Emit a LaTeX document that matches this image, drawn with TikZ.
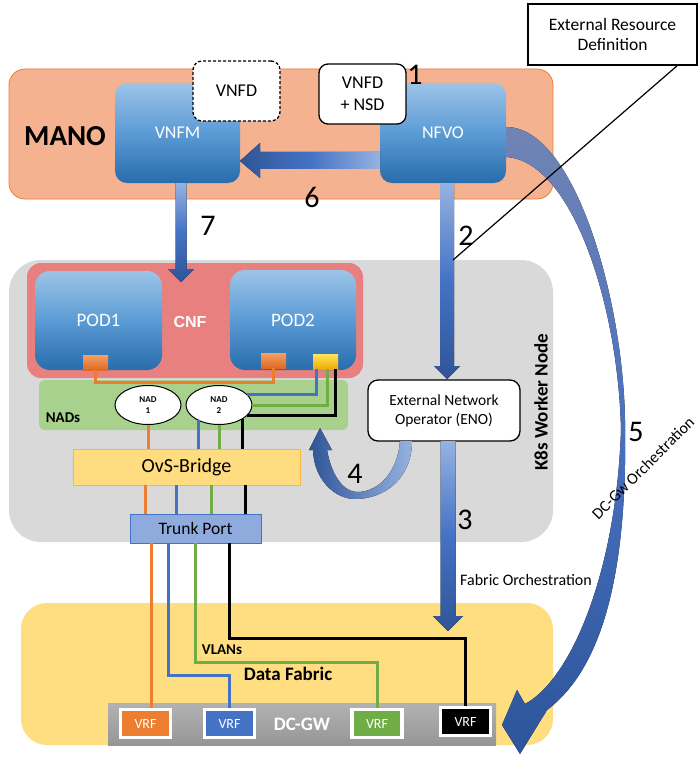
\documentclass[tikz,border=0pt]{standalone}
\usepackage{fontspec}
\setmainfont{Carlito}
\newfontfamily\arialfont{Liberation Sans}
\usetikzlibrary{shapes.geometric,calc}

\definecolor{manofill}{RGB}{245,178,145}
\definecolor{manodraw}{RGB}{237,125,49}
\definecolor{bluetop}{RGB}{157,196,231}
\definecolor{bluemid}{RGB}{91,155,213}
\definecolor{bluebot}{RGB}{40,108,172}
\definecolor{k8sgray}{RGB}{217,217,217}
\definecolor{cnfred}{RGB}{233,128,128}
\definecolor{nadgreen}{RGB}{169,209,142}
\definecolor{ovsfill}{RGB}{255,220,128}
\definecolor{ovsdraw}{RGB}{244,185,66}
\definecolor{trunkfill}{RGB}{143,170,220}
\definecolor{trunkdraw}{RGB}{68,114,196}
\definecolor{fabricfill}{RGB}{255,222,130}
\definecolor{lnorange}{RGB}{237,125,49}
\definecolor{lnblue}{RGB}{68,114,196}
\definecolor{lngreen}{RGB}{112,173,71}
\definecolor{arrlight}{RGB}{150,178,225}
\definecolor{arrmid}{RGB}{68,114,196}
\definecolor{arrdark}{RGB}{47,85,151}
\definecolor{arrgray}{RGB}{112,132,180}
\definecolor{gwtop}{RGB}{178,178,178}
\definecolor{gwbot}{RGB}{150,150,150}

\newcommand\dnarrow[7]{\fill[#1] ({#2-#5},#3) -- ({#2-#5},{#4-#7}) -- ({#2-#6},{#4-#7}) -- (#2,#4) -- ({#2+#6},{#4-#7}) -- ({#2+#5},{#4-#7}) -- ({#2+#5},#3) -- cycle;}

\tikzset{
 zsep/.style={inner sep=0pt, outer sep=0pt},
 bluebox/.style={zsep, rectangle, rounded corners=12pt, top color=bluetop, bottom color=bluebot, middle color=bluemid, text=white, font=\fontsize{18}{20}\selectfont},
 podbox/.style={bluebox, rounded corners=15pt, font=\fontsize{19}{21}\selectfont},
 notebox/.style={zsep, draw=black, line width=1.3pt, fill=white, rounded corners=9pt, align=center, font=\fontsize{18}{22}\selectfont},
 portbox/.style={zsep, minimum width=25pt, minimum height=15pt},
 nadell/.style={zsep, ellipse, draw=black, line width=1pt, fill=white, minimum width=66pt, minimum height=39pt, align=center, font=\fontsize{9}{11}\selectfont\bfseries},
 vrfbox/.style={zsep, draw=white, line width=3.5pt, minimum width=50pt, minimum height=28pt, text=white, font=\fontsize{14}{16}\selectfont},
 wire/.style={line width=3pt},
 numlbl/.style={font=\fontsize{30}{32}\selectfont},
 vgrad/.style={top color=arrlight, bottom color=arrdark, middle color=arrmid},
}

\begin{document}
\begin{tikzpicture}[x=1pt,y=-1pt]
\useasboundingbox (0,0) rectangle (700,778);
\fill[white] (0,0) rectangle (700,778);

% big panels
\node[zsep, rounded corners=16pt, fill=manofill, draw=manodraw, line width=0.8pt, minimum width=544pt, minimum height=130pt] (mano) at (281,134) {};
\node[zsep, rounded corners=32pt, fill=k8sgray, minimum width=544pt, minimum height=282pt] (k8s) at (281,401) {};
\node[zsep, rounded corners=26pt, fill=fabricfill, minimum width=532pt, minimum height=142pt] (fabric) at (287,674) {};

% CNF
\node[zsep, rounded corners=14pt, fill=cnfred, minimum width=336pt, minimum height=115pt] (cnf) at (195,320.5) {};
\node[podbox, minimum width=127pt, minimum height=99pt] (pod1) at (98.5,320.5) {POD1};
\node[podbox, minimum width=126pt, minimum height=100pt] (pod2) at (293,320) {POD2};
\node[portbox, top color={rgb,255:red,246;green,160;blue,100}, bottom color={rgb,255:red,222;green,105;blue,35}] (p1o) at (95.5,362.5) {};
\node[portbox, top color={rgb,255:red,246;green,160;blue,100}, bottom color={rgb,255:red,222;green,105;blue,35}] (p2o) at (273.5,360.5) {};
\node[portbox, top color={rgb,255:red,255;green,228;blue,90}, bottom color={rgb,255:red,235;green,172;blue,0}] (p2y) at (325.5,361.5) {};

% NADs
\node[zsep, rounded corners=6pt, fill=nadgreen, minimum width=309pt, minimum height=50pt] (nads) at (193.5,405) {};
\node[nadell] (nad1) at (148,405) {NAD\\1};
\node[nadell] (nad2) at (219,405) {NAD\\2};

% OvS and trunk
\node[zsep, fill=ovsfill, draw=ovsdraw, line width=0.8pt, minimum width=227pt, minimum height=36pt, font=\fontsize{20}{22}\selectfont] (ovs) at (186.5,467) {OvS-Bridge};
\node[zsep, fill=trunkfill, draw=trunkdraw, line width=0.8pt, minimum width=131pt, minimum height=29pt, font=\fontsize{17.5}{19}\selectfont] (trunk) at (195.5,528.5) {Trunk Port};

% DC-GW
\node[zsep, top color=gwtop, bottom color=gwbot, minimum width=388pt, minimum height=42pt, text=white, font=\fontsize{19}{21}\selectfont\bfseries] (dcgw) at (302,724) {DC-GW};

% wires in pods / NADs
\draw[wire, lnorange] (p1o.south) -- ++(0,12) -| (p2o.south);
\draw[wire, lnblue] ([xshift=-9.5pt]p2y.south) |- (nad2.20);
\draw[wire, lngreen] ([xshift=1.5pt]p2y.south) |- (nad2.east);
\draw[wire, black] ([xshift=9.5pt]p2y.south) |- (nad2.-20);
\draw[wire, lnorange] (nad1.south) -- (nad1.south |- ovs.north);
\draw[wire, lnblue] (nad2.-144) -- (nad2.-144 |- ovs.north);
\draw[wire, lngreen] (nad2.south) -- (nad2.south |- ovs.north);
\draw[wire, black] (nad2.-30) -- (nad2.-30 |- ovs.north);

% OvS to trunk
\coordinate (o1) at ([xshift=-41.5pt]ovs.south);
\coordinate (o2) at ([xshift=-10.5pt]ovs.south);
\coordinate (o3) at ([xshift=24.5pt]ovs.south);
\coordinate (o4) at ([xshift=58.5pt]ovs.south);
\draw[wire, lnorange] (o1) -- (o1 |- trunk.north);
\draw[wire, lnblue] (o2) -- (o2 |- trunk.north);
\draw[wire, lngreen] (o3) -- (o3 |- trunk.north);
\draw[wire, black] (o4) -- (o4 |- trunk.north);

% VRFs
\node[vrfbox, fill=lnorange] (vrf1) at (145.5,723.5) {VRF};
\node[vrfbox, fill=lnblue] (vrf2) at (229.5,723.5) {VRF};
\node[vrfbox, fill=lngreen] (vrf3) at (377,723.5) {VRF};
\node[vrfbox, fill=black] (vrf4) at (465.5,721.5) {VRF};

% trunk to VRFs
\coordinate (t1) at ([xshift=-44.5pt]trunk.south);
\coordinate (t2) at ([xshift=-27.5pt]trunk.south);
\coordinate (t3) at ([xshift=-0.5pt]trunk.south);
\coordinate (t4) at ([xshift=33.5pt]trunk.south);
\draw[wire, lnorange] (t1) -- (t1 |- vrf1.north);
\draw[wire, lnblue] (t2) -- ++(0,132) -| (vrf2.north);
\draw[wire, lngreen] (t3) -- ++(0,119) -| (vrf3.north);
\draw[wire, black] (t4) -- ++(0,95) -| (vrf4.north);
% redraw VRF borders on top of wire ends
\foreach \v in {vrf1,vrf2,vrf3,vrf4} {\draw[white, line width=3.5pt] (\v.north west) rectangle (\v.south east);}

% MANO boxes
\node[bluebox, minimum width=125pt, minimum height=100pt] (vnfm) at (177.5,133) {VNFM};
\node[bluebox, minimum width=126pt, minimum height=100pt] (nfvo) at (443,133) {NFVO};
\node[notebox, dash pattern=on 3pt off 2pt, minimum width=87pt, minimum height=60pt] (vnfd) at (236.5,91) {VNFD};
\node[notebox, minimum width=87pt, minimum height=60pt] (vnfdnsd) at (362.5,94) {VNFD\\+ NSD};

% arrow 6 (NFVO -> VNFM)
\fill[left color=arrdark, right color=arrlight, middle color=arrmid] (nfvo.west |- 0,152) -- (260,152) -- (260,143) -- (vnfm.east |- 0,161) -- (260,178) -- (260,169) -- (nfvo.west |- 0,169) -- cycle;

% arrow 7 (VNFM -> CNF)
\dnarrow{vgrad}{181}{183}{282}{5.5}{13}{13}
% arrow 2 (NFVO -> ENO)
\dnarrow{vgrad}{447}{183}{379}{7}{13}{13}

% ENO
\node[notebox, rounded corners=10pt, minimum width=152pt, minimum height=61pt, font=\fontsize{15.5}{19}\selectfont] (eno) at (444,410.5) {External Network\\Operator (ENO)};

% arrow 3 (ENO -> fabric)
\dnarrow{vgrad}{448}{441}{631}{7.5}{15}{15}

% arrow 4 (ENO -> NADs)
\fill[left color=arrdark, right color=arrlight] (320,428) -- (332,450) -- (327,450)
  .. controls (332,478) and (345,492) .. (357,492)
  .. controls (380,492) and (398,470) .. (400,441) -- (412,441)
  .. controls (412,478) and (385,499) .. (355,499)
  .. controls (335,499) and (314,480) .. (313,450) -- (309,450) -- cycle;

% arrow 5 (NFVO -> DC-GW)
\fill[top color=arrgray, bottom color={rgb,255:red,45;green,85;blue,155}, middle color={rgb,255:red,72;green,112;blue,190}]
  (nfvo.east |- 0,127) .. controls (575,127) and (623,300) .. (625,420)
  .. controls (628,580) and (600,670) .. (547,710) -- (520,754) -- (502,725) -- (517,690) -- (525,704)
  .. controls (570,680) and (616,575) .. (621,430)
  .. controls (618,300) and (570,160) .. (nfvo.east |- 0,157) -- cycle;

% External resource definition
\node[zsep, draw=black, line width=1.3pt, fill=white, minimum width=169pt, minimum height=61pt, align=center, font=\fontsize{17.5}{20}\selectfont] (erd) at (612.5,34.5) {External Resource\\Definition};
\draw[line width=1.2pt] ([xshift=65.5pt]erd.south) -- ([xshift=172pt]k8s.north);

% labels
\node[font=\fontsize{29}{31}\selectfont\bfseries] (manolbl) at (65,136) {MANO};
\node[font=\arialfont\fontsize{16}{18}\selectfont\bfseries, text=white] (cnflbl) at (190,322) {CNF};
\node[font=\fontsize{15}{17}\selectfont\bfseries] (nadslbl) at (63,418) {NADs};
\node[font=\fontsize{15}{17}\selectfont\bfseries] (vlanlbl) at (222,650) {VLANs};
\node[font=\fontsize{19}{21}\selectfont\bfseries] (dflbl) at (288,674) {Data Fabric};
\node[font=\fontsize{19}{21}\selectfont\bfseries, rotate=90] (k8slbl) at (541,402) {K8s Worker Node};
\node[font=\fontsize{16}{18}\selectfont] (folbl) at (526,580) {Fabric Orchestration};
\node[font=\fontsize{16}{18}\selectfont, rotate=45] (dcolbl) at (643,468) {DC-Gw Orchestration};
\node[numlbl] (n1) at (415,75) {1};
\node[numlbl] (n2) at (466,236) {2};
\node[numlbl] (n3) at (465,520) {3};
\node[numlbl] (n4) at (355,474) {4};
\node[numlbl] (n5) at (636,432) {5};
\node[numlbl] (n6) at (312,197) {6};
\node[numlbl] (n7) at (208,226) {7};
\end{tikzpicture}
\end{document}
